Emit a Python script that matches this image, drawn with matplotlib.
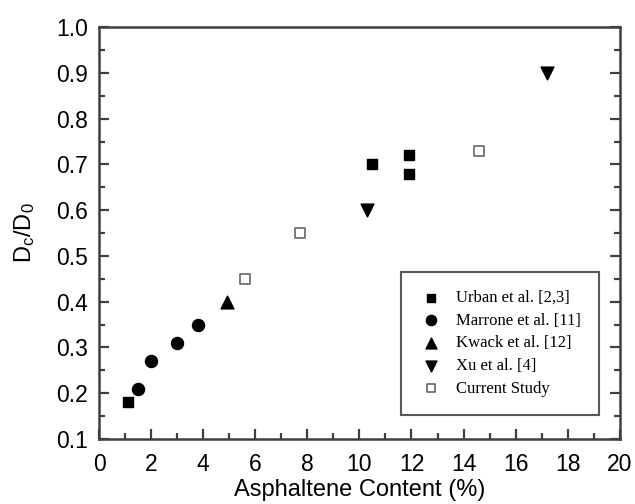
import matplotlib.pyplot as plt
from matplotlib.ticker import MultipleLocator

# dados
urban_x = [1.1, 10.5, 11.9, 11.9]
urban_y = [0.18, 0.70, 0.72, 0.68]
marrone_x = [1.5, 2.0, 3.0, 3.8]
marrone_y = [0.21, 0.27, 0.31, 0.35]
kwack_x = [4.9]
kwack_y = [0.40]
xu_x = [10.3, 17.2]
xu_y = [0.60, 0.90]
current_x = [5.6, 7.7, 14.6]
current_y = [0.45, 0.55, 0.73]

plt.rcParams["font.family"] = ["Liberation Sans", "DejaVu Sans"]
plt.rcParams["mathtext.default"] = "regular"

fig = plt.figure(figsize=(6.35, 5.04), dpi=100)
ax = fig.add_axes([0.156, 0.129, 0.820, 0.817])

ax.scatter(urban_x, urban_y, marker="s", s=45, color="black", label="Urban et al. [2,3]")
ax.scatter(marrone_x, marrone_y, marker="o", s=75, color="black", label="Marrone et al. [11]")
ax.scatter(kwack_x, kwack_y, marker="^", s=85, color="black", label="Kwack et al. [12]")
ax.scatter(xu_x, xu_y, marker="v", s=85, color="black", label="Xu et al. [4]")
ax.scatter(current_x, current_y, marker="s", s=42, facecolor="white", edgecolor="#666666",
           linewidth=1.2, label="Current Study")

ax.set_xlim(0, 20)
ax.set_ylim(0.1, 1.0)
ax.xaxis.set_major_locator(MultipleLocator(2))
ax.xaxis.set_minor_locator(MultipleLocator(1))
ax.yaxis.set_major_locator(MultipleLocator(0.1))
ax.yaxis.set_minor_locator(MultipleLocator(0.05))
ax.yaxis.set_major_formatter(plt.FormatStrFormatter("%.1f"))

for s in ax.spines.values():
    s.set_linewidth(1.8)
    s.set_color("#404040")
ax.tick_params(which="both", direction="in", top=False, right=True, color="#404040",
               labelsize=16.5)
ax.tick_params(axis="x", pad=10)
ax.tick_params(axis="y", pad=8)
ax.tick_params(which="major", length=7, width=1.6)
ax.tick_params(which="minor", length=4, width=1.6)

ax.set_xlabel("Asphaltene Content (%)", fontsize=17, labelpad=2)
ax.set_ylabel("D$_c$/D$_0$", fontsize=17, labelpad=14)

leg = ax.legend(loc="lower right", bbox_to_anchor=(0.96, 0.058), prop={"family": "Liberation Serif", "size": 12},
                frameon=True, fancybox=False, edgecolor="#303030", borderpad=1.1,
                labelspacing=0.4, handlelength=1.4, handletextpad=0.8, borderaxespad=0,
                scatterpoints=1, markerscale=0.85)
leg.get_frame().set_linewidth(1.5)

fig.savefig("out.png", dpi=100)
